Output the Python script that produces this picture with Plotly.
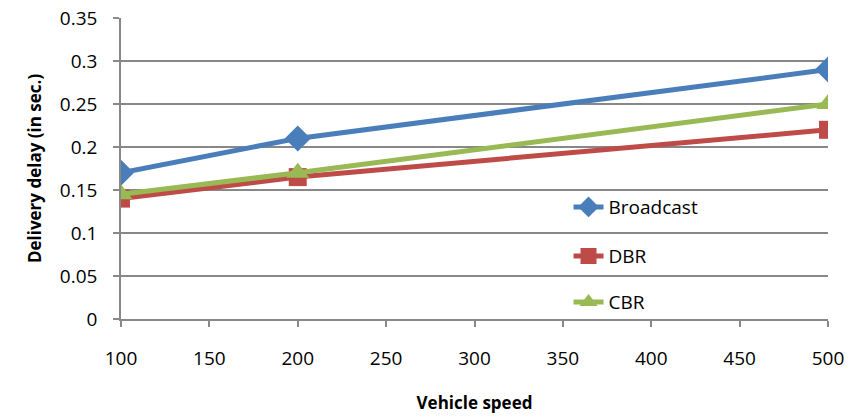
import plotly.graph_objects as go

speed = [100, 200, 500]
broadcast = [0.17, 0.21, 0.29]
dbr = [0.14, 0.165, 0.22]
cbr = [0.145, 0.17, 0.25]

y_ticks = [0, 0.05, 0.1, 0.15, 0.2, 0.25, 0.3, 0.35]
y_labels = ["0", "0.05", "0.1", "0.15", "0.2", "0.25", "0.3", "0.35"]
x_ticks = [100, 150, 200, 250, 300, 350, 400, 450, 500]

FONT = "Open Sans, DejaVu Sans, sans-serif"

fig = go.Figure()
fig.add_trace(go.Scatter(x=speed, y=broadcast, name="Broadcast", mode="lines+markers",
                         line=dict(color="#4A7EBB", width=5),
                         marker=dict(symbol="diamond", size=20, color="#4A7EBB"),
                         legend="legend"))
fig.add_trace(go.Scatter(x=speed, y=dbr, name="DBR", mode="lines+markers",
                         line=dict(color="#BE4B48", width=5),
                         marker=dict(symbol="square", size=18, color="#BE4B48"),
                         legend="legend2"))
fig.add_trace(go.Scatter(x=speed, y=cbr, name="CBR", mode="lines+markers",
                         line=dict(color="#98B954", width=5),
                         marker=dict(symbol="triangle-up", size=20, color="#98B954"),
                         legend="legend3"))

leg_common = dict(x=0.633, xanchor="left", yanchor="middle", bgcolor="rgba(0,0,0,0)",
                  font=dict(family=FONT, size=19, color="#000"))

fig.update_layout(
    width=854, height=417,
    margin=dict(l=121, r=26, t=18, b=98),
    paper_bgcolor="white", plot_bgcolor="white",
    font=dict(family=FONT, color="#000"),
    showlegend=True,
    legend=dict(y=0.372, **leg_common),
    legend2=dict(y=0.209, **leg_common),
    legend3=dict(y=0.056, **leg_common),
    xaxis=dict(
        range=[100, 500], tickvals=x_ticks, showgrid=False, automargin=False,
        showline=True, linecolor="#888", linewidth=1.5,
        ticks="outside", ticklen=6, tickcolor="#888", tickwidth=1.5,
        ticklabelstandoff=15, ticklabeloverflow="allow",
        tickfont=dict(family=FONT, size=19, color="#000"),
        title=dict(text="<b>Vehicle speed</b>", font=dict(family=FONT, size=17, color="#000"), standoff=28),
        zeroline=False,
    ),
    yaxis=dict(
        range=[0, 0.35], tickvals=y_ticks, ticktext=y_labels, automargin=False,
        showgrid=True, gridcolor="#888", gridwidth=1.5,
        showline=True, linecolor="#888", linewidth=1.5,
        ticks="outside", ticklen=6, tickcolor="#888", tickwidth=1.5,
        ticklabelstandoff=12, ticklabeloverflow="allow",
        tickfont=dict(family=FONT, size=19, color="#000"),
        title=dict(text="<b>Delivery delay (in sec.)</b>", font=dict(family=FONT, size=17, color="#000"), standoff=14),
        zeroline=False,
    ),
)

fig.write_html("out.html", config={"displayModeBar": False},
               post_script="document.body.style.margin='0';")
